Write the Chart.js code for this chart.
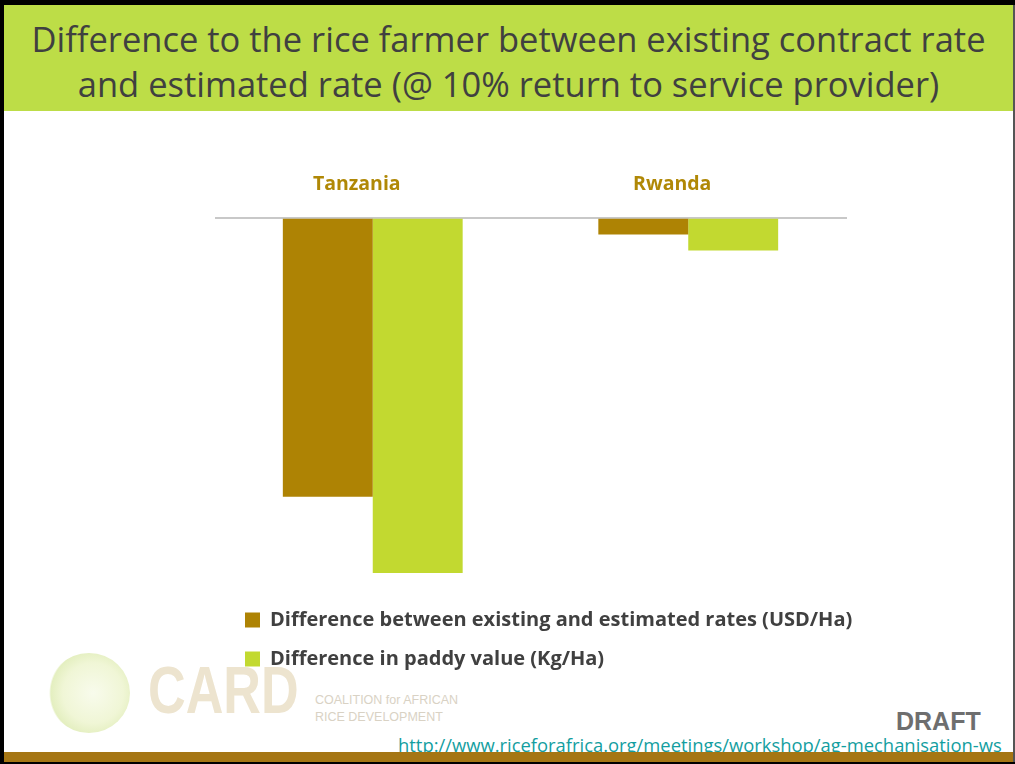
<!DOCTYPE html>
<html>
<head>
<meta charset="utf-8">
<script src="https://cdn.jsdelivr.net/npm/chart.js@4.4.1/dist/chart.umd.min.js"></script>
<style>
  html, body { margin: 0; padding: 0; background: #000; }
  #slide {
    position: absolute; left: 4px; top: 5px; width: 1009px; height: 757px;
    background: #fff; overflow: hidden;
  }
  #edge { position: absolute; right: 0; top: 5px; width: 2px; height: 757px; background: #555; }
  #header {
    position: absolute; left: 0; top: 0; width: 1009px; height: 106px;
    background: #BDDD47; color: #404040;
    font-family: "Open Sans", sans-serif; font-size: 34.5px; line-height: 45px;
    text-align: center; padding-top: 11px; box-sizing: border-box; white-space: nowrap;
  }
  #footerBar { position: absolute; left: 0; top: 747px; width: 1009px; height: 10px; background: #A57614; }
  #chartBox { position: absolute; left: 211px; top: 154px; width: 661px; height: 520px; }
  #logo { position: absolute; left: 44px; top: 648px; }
  #logo .ring {
    position: absolute; left: 0; top: 0; width: 82px; height: 80px; border-radius: 50%;
    background: radial-gradient(circle at 55% 50%, #f8fbec 0%, #f0f6d6 50%, #e4efc0 70%, rgba(255,255,255,0) 73%);
  }
  #logo .card {
    position: absolute; left: 100px; top: 2px; font-family: "Liberation Sans", sans-serif;
    font-weight: bold; font-size: 66px; line-height: 70px; color: #EDE4CF;
    transform: scaleX(0.79); transform-origin: left top;
  }
  #logo .sub {
    position: absolute; left: 267px; top: 39px; font-family: "Liberation Sans", sans-serif;
    font-size: 12.5px; line-height: 17px; color: #D9D2C4; white-space: nowrap;
  }
  #draft {
    position: absolute; left: 892px; top: 702px; font-family: "Liberation Sans", sans-serif;
    font-weight: bold; font-size: 25px; color: #6E6E6E;
  }
  #url {
    position: absolute; left: 394px; top: 727px; font-family: "Open Sans", sans-serif;
    font-size: 18.4px; color: #139EA0; text-decoration: underline; white-space: nowrap;
  }
</style>
</head>
<body>
<div id="slide">
  <div id="header">Difference to the rice farmer between existing contract rate<br>and estimated rate (@ 10% return to service provider)</div>
  <div id="logo">
    <div class="ring"></div>
    <div class="card">CARD</div>
    <div class="sub">COALITION for AFRICAN<br>RICE DEVELOPMENT</div>
  </div>
  <div id="chartBox"><canvas id="diffChart"></canvas></div>
  <div id="draft">DRAFT</div>
  <div id="url">http://www.riceforafrica.org/meetings/workshop/ag-mechanisation-ws</div>
  <div id="footerBar"></div>
</div>
<div id="edge"></div>

<script>
// countries and the two differences per hectare
const countries = ['Tanzania', 'Rwanda'];
const usdPerHa = [-139, -8];
const kgPerHa = [-177, -16];
const seriesNames = [
  'Difference between existing and estimated rates (USD/Ha)',
  'Difference in paddy value (Kg/Ha)'
];

const BROWN = '#AE8304';
const LIME = '#C2D930';

// nudge the legend rows to the right of the plot edge
const legendShift = {
  id: 'legendShift',
  afterLayout(chart) {
    chart.legend.left += 11;
    chart.legend.right += 11;
  }
};

const ctx = document.getElementById('diffChart').getContext('2d');
new Chart(ctx, {
  type: 'bar',
  data: {
    labels: countries,
    datasets: [
      { label: seriesNames[0], data: usdPerHa, backgroundColor: BROWN },
      { label: seriesNames[1], data: kgPerHa, backgroundColor: LIME }
    ]
  },
  options: {
    responsive: true,
    maintainAspectRatio: false,
    animation: false,
    barPercentage: 1,
    categoryPercentage: 0.57,
    // right padding leaves room for the long legend line
    layout: { padding: { left: 0, top: 0, bottom: 0, right: 30 } },
    plugins: {
      tooltip: { enabled: false },
      legend: {
        position: 'bottom',
        align: 'start',
        labels: {
          boxWidth: 15,
          boxHeight: 15,
          padding: 19,
          color: '#404040',
          font: { family: 'Open Sans', size: 20, weight: 'bold' }
        }
      }
    },
    scales: {
      x: {
        position: 'top',
        grid: { display: false },
        border: { display: true, color: '#C8C8C8', width: 2 },
        ticks: {
          padding: 14,
          labelOffset: -16,
          color: '#B08806',
          font: { family: 'Open Sans', size: 19.5, weight: 'bold' }
        }
      },
      y: {
        display: false,
        min: -186,
        max: 0
      }
    }
  },
  plugins: [legendShift]
});
</script>
</body>
</html>
